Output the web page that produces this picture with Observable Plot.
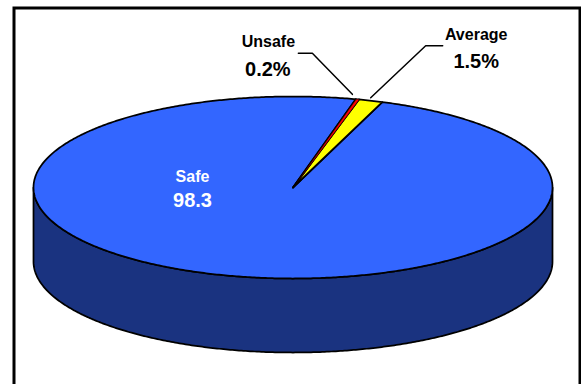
<!DOCTYPE html>
<html>
<head>
<meta charset="utf-8">
<style>
  html, body { margin: 0; padding: 0; background: #fff; }
  svg { display: block; }
</style>
<script src="https://cdn.jsdelivr.net/npm/d3@7"></script>
<script src="https://cdn.jsdelivr.net/npm/@observablehq/plot@0.6"></script>
</head>
<body>
<script>
// Share of road sections per safety class, clockwise from the pie's start angle.
const categories = ["Unsafe", "Average", "Safe"];
const shares = [0.2, 1.5, 98.3];
const suffixes = ["%", "%", ""];
const sliceColors = ["#ff0000", "#ffff00", "#3366ff"];

const startAngle = 14;      // degrees clockwise from twelve o'clock
const wallDepth = 74 / 91;  // height of the disc's side, in units of the vertical radius
const font = "'Liberation Sans', Arial, sans-serif";

// Point on the tilted disc's rim in unit coordinates; angle is clockwise from the top.
const rim = (deg) => {
  const a = (deg * Math.PI) / 180;
  return { x: Math.sin(a), y: Math.cos(a) };
};
const arc = (from, to) => {
  const n = Math.max(2, Math.ceil(Math.abs(to - from) * 2));
  return d3.range(n + 1).map((i) => rim(from + ((to - from) * i) / n));
};

// Each slice is a closed outline: centre, arc, back to centre.
let cursor = startAngle;
const slices = categories.map((category, i) => {
  const from = cursor;
  const to = cursor + (shares[i] / 100) * 360;
  cursor = to;
  return { category, from, to, mid: (from + to) / 2, share: shares[i], suffix: suffixes[i] };
});
const outlines = slices.flatMap((s) =>
  [{ x: 0, y: 0 }, ...arc(s.from, s.to), { x: 0, y: 0 }].map((p) => ({ ...p, category: s.category }))
);
const drawOrder = ["Safe", "Average", "Unsafe"];
const orderedOutlines = drawOrder.flatMap((c) => outlines.filter((d) => d.category === c));

// The visible front of the disc's side wall.
const front = arc(90, 270);
const wall = [...front, ...front.slice().reverse().map((p) => ({ x: p.x, y: p.y - wallDepth }))];
wall.push(wall[0]);

const xRange = [33, 552];
const yRange = [278, 96];
const xUnit = (xRange[1] - xRange[0]) / 2;
const yUnit = (yRange[0] - yRange[1]) / 2;

// Leader lines start at a slice's rim; bends are pixel offsets from that rim point.
const leaderBends = {
  Unsafe: [[-5, -5], [-45, -46], [-59, -46]],
  Average: [[0, -3], [55, -55], [72, -55]]
};
const leaders = Object.entries(leaderBends).flatMap(([category, bends]) => {
  const s = slices.find((d) => d.category === category);
  const r = rim(s.mid);
  return bends.map(([dx, dy]) => ({ category, x: r.x + dx / xUnit, y: r.y - dy / yUnit }));
});

// Callout text: name and value, offset from the anchor point of each slice.
const labelPlacement = {
  Unsafe: { name: [-89, -57], value: [-89.5, -30], size: [16, 20], color: "#000" },
  Average: { name: [105.5, -66], value: [105.5, -39], size: [16, 20], color: "#000" },
  Safe: { name: [-100.5, -11], value: [-100.5, 13.5], size: [16, 20], color: "#fff" }
};
const labelMarks = slices.flatMap((s) => {
  const place = labelPlacement[s.category];
  const anchor = [s.category === "Safe" ? { x: 0, y: 0 } : rim(s.mid)];
  const text = (content, [dx, dy], fontSize) =>
    Plot.text(anchor, {
      x: "x", y: "y", text: () => content, dx, dy, fontSize,
      fontFamily: font, fontWeight: "bold", fill: place.color, textAnchor: "middle"
    });
  return [
    text(s.category, place.name, place.size[0]),
    text(`${s.share}${s.suffix}`, place.value, place.size[1])
  ];
});

const chart = Plot.plot({
  width: 581,
  height: 384,
  margin: 0,
  style: { background: "#fff" },
  x: { domain: [-1, 1], range: xRange, axis: null },
  y: { domain: [-1, 1], range: yRange, axis: null },
  color: { domain: categories, range: sliceColors },
  marks: [
    Plot.frame({ insetLeft: 13.5, insetTop: 7.5, insetRight: 1.5, insetBottom: -10, stroke: "#000", strokeWidth: 3 }),
    Plot.line(wall, { x: "x", y: "y", fill: "#1a3380", stroke: "#000", strokeWidth: 1.75 }),
    Plot.line(orderedOutlines, { x: "x", y: "y", z: "category", fill: "category", stroke: "#000", strokeWidth: 1.75, strokeLinejoin: "round" }),
    // The narrowest slice is redrawn with a fine outline so its colour stays visible.
    Plot.line(outlines.filter((d) => d.category === "Unsafe"), { x: "x", y: "y", fill: "category", stroke: "#000", strokeWidth: 0.4, dx: 0.4 }),
    Plot.line(leaders, { x: "x", y: "y", z: "category", stroke: "#000", strokeWidth: 1.5 }),
    ...labelMarks
  ]
});
document.body.append(chart);
</script>
</body>
</html>
